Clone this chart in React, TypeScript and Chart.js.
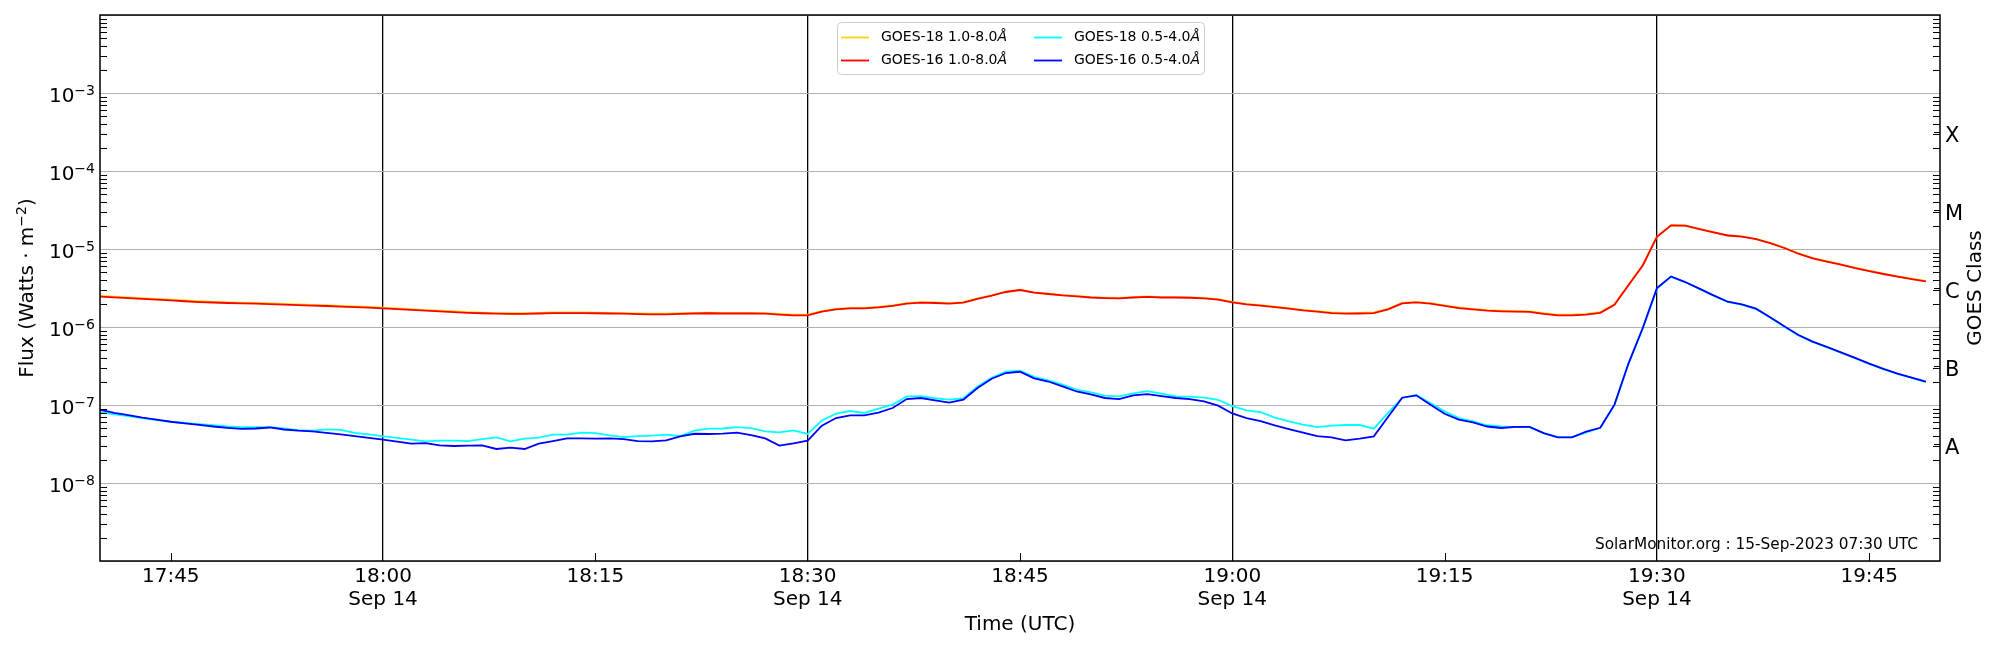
import { useEffect, useRef } from 'react';
import Chart from 'chart.js/auto';

// GOES XRS one-minute fluxes (W m^-2), first sample at 17:40 UTC on Sep 14
const startTime = '17:40';
const axisStart = '17:40';
const axisEnd = '19:50';

const goes18Long = [
  2.50e-6, 2.45e-6, 2.40e-6, 2.34e-6, 2.29e-6, 2.24e-6, 2.19e-6, 2.14e-6, 2.10e-6, 2.07e-6,
  2.05e-6, 2.03e-6, 2.01e-6, 1.98e-6, 1.95e-6, 1.92e-6, 1.90e-6, 1.87e-6, 1.84e-6, 1.81e-6,
  1.77e-6, 1.73e-6, 1.69e-6, 1.65e-6, 1.62e-6, 1.58e-6, 1.55e-6, 1.53e-6, 1.51e-6, 1.50e-6,
  1.50e-6, 1.52e-6, 1.54e-6, 1.54e-6, 1.54e-6, 1.53e-6, 1.52e-6, 1.51e-6, 1.49e-6, 1.48e-6,
  1.48e-6, 1.50e-6, 1.52e-6, 1.53e-6, 1.52e-6, 1.52e-6, 1.52e-6, 1.51e-6, 1.47e-6, 1.44e-6,
  1.44e-6, 1.60e-6, 1.71e-6, 1.76e-6, 1.76e-6, 1.81e-6, 1.89e-6, 2.02e-6, 2.08e-6, 2.06e-6,
  2.02e-6, 2.08e-6, 2.32e-6, 2.55e-6, 2.84e-6, 3.01e-6, 2.78e-6, 2.68e-6, 2.57e-6, 2.50e-6,
  2.42e-6, 2.38e-6, 2.36e-6, 2.42e-6, 2.46e-6, 2.42e-6, 2.42e-6, 2.40e-6, 2.36e-6, 2.28e-6,
  2.10e-6, 1.98e-6, 1.91e-6, 1.83e-6, 1.75e-6, 1.66e-6, 1.60e-6, 1.54e-6, 1.51e-6, 1.52e-6,
  1.54e-6, 1.71e-6, 2.04e-6, 2.10e-6, 2.02e-6, 1.89e-6, 1.78e-6, 1.71e-6, 1.65e-6, 1.62e-6,
  1.60e-6, 1.59e-6, 1.50e-6, 1.44e-6, 1.44e-6, 1.47e-6, 1.55e-6, 1.96e-6, 3.50e-6, 6.22e-6,
  1.44e-5, 2.02e-5, 2.00e-5, 1.81e-5, 1.64e-5, 1.50e-5, 1.45e-5, 1.35e-5, 1.20e-5, 1.04e-5,
  8.8e-6, 7.7e-6, 7.0e-6, 6.35e-6, 5.75e-6, 5.27e-6, 4.83e-6, 4.46e-6, 4.16e-6, 3.89e-6,
];

const goes16Long = [
  2.45e-6, 2.40e-6, 2.35e-6, 2.29e-6, 2.24e-6, 2.19e-6, 2.14e-6, 2.09e-6, 2.06e-6, 2.03e-6,
  2.01e-6, 1.99e-6, 1.97e-6, 1.94e-6, 1.91e-6, 1.88e-6, 1.86e-6, 1.83e-6, 1.80e-6, 1.77e-6,
  1.73e-6, 1.70e-6, 1.66e-6, 1.62e-6, 1.59e-6, 1.55e-6, 1.52e-6, 1.50e-6, 1.48e-6, 1.47e-6,
  1.47e-6, 1.49e-6, 1.51e-6, 1.51e-6, 1.51e-6, 1.50e-6, 1.49e-6, 1.48e-6, 1.46e-6, 1.45e-6,
  1.45e-6, 1.47e-6, 1.49e-6, 1.50e-6, 1.49e-6, 1.49e-6, 1.49e-6, 1.48e-6, 1.44e-6, 1.41e-6,
  1.41e-6, 1.57e-6, 1.68e-6, 1.73e-6, 1.73e-6, 1.78e-6, 1.86e-6, 1.99e-6, 2.05e-6, 2.03e-6,
  1.99e-6, 2.05e-6, 2.29e-6, 2.52e-6, 2.81e-6, 2.98e-6, 2.75e-6, 2.65e-6, 2.54e-6, 2.47e-6,
  2.39e-6, 2.35e-6, 2.33e-6, 2.39e-6, 2.43e-6, 2.39e-6, 2.39e-6, 2.37e-6, 2.33e-6, 2.25e-6,
  2.07e-6, 1.95e-6, 1.88e-6, 1.80e-6, 1.72e-6, 1.63e-6, 1.57e-6, 1.51e-6, 1.48e-6, 1.49e-6,
  1.51e-6, 1.68e-6, 2.01e-6, 2.07e-6, 1.99e-6, 1.86e-6, 1.75e-6, 1.68e-6, 1.62e-6, 1.59e-6,
  1.57e-6, 1.56e-6, 1.47e-6, 1.41e-6, 1.41e-6, 1.44e-6, 1.52e-6, 1.93e-6, 3.45e-6, 6.15e-6,
  1.43e-5, 2.01e-5, 1.99e-5, 1.80e-5, 1.63e-5, 1.49e-5, 1.44e-5, 1.34e-5, 1.19e-5, 1.03e-5,
  8.7e-6, 7.6e-6, 6.9e-6, 6.3e-6, 5.7e-6, 5.22e-6, 4.78e-6, 4.42e-6, 4.12e-6, 3.85e-6,
];

const goes18Short = [
  8.1e-8, 7.6e-8, 7.2e-8, 6.8e-8, 6.4e-8, 6.1e-8, 5.9e-8, 5.7e-8, 5.5e-8, 5.3e-8,
  5.2e-8, 5.2e-8, 5.2e-8, 5.0e-8, 4.75e-8, 4.7e-8, 4.86e-8, 4.8e-8, 4.4e-8, 4.2e-8,
  3.96e-8, 3.8e-8, 3.59e-8, 3.42e-8, 3.49e-8, 3.49e-8, 3.45e-8, 3.66e-8, 3.85e-8, 3.42e-8,
  3.70e-8, 3.81e-8, 4.16e-8, 4.16e-8, 4.42e-8, 4.37e-8, 4.08e-8, 3.88e-8, 4.0e-8, 4.04e-8,
  4.16e-8, 4.0e-8, 4.68e-8, 4.97e-8, 5.0e-8, 5.21e-8, 5.06e-8, 4.6e-8, 4.46e-8, 4.72e-8,
  4.25e-8, 6.35e-8, 7.73e-8, 8.37e-8, 7.9e-8, 8.97e-8, 1.01e-7, 1.29e-7, 1.30e-7, 1.22e-7,
  1.17e-7, 1.22e-7, 1.73e-7, 2.24e-7, 2.67e-7, 2.75e-7, 2.3e-7, 2.07e-7, 1.82e-7, 1.57e-7,
  1.45e-7, 1.32e-7, 1.29e-7, 1.41e-7, 1.51e-7, 1.40e-7, 1.29e-7, 1.28e-7, 1.24e-7, 1.16e-7,
  9.7e-8, 8.53e-8, 8.1e-8, 6.9e-8, 6.17e-8, 5.6e-8, 5.2e-8, 5.43e-8, 5.54e-8, 5.54e-8,
  4.97e-8, 7.9e-8, 1.23e-7, 1.35e-7, 1.06e-7, 8.28e-8, 6.8e-8, 6.17e-8, 5.5e-8, 5.3e-8,
  5.2e-8, 5.2e-8, 4.37e-8, 3.88e-8, 3.88e-8, 4.46e-8, 5.1e-8, 1.0e-7, 3.4e-7, 9.6e-7,
  3.1e-6, 4.4e-6, 3.75e-6, 3.08e-6, 2.52e-6, 2.1e-6, 1.93e-6, 1.7e-6, 1.32e-6, 1.01e-6,
  7.8e-7, 6.45e-7, 5.5e-7, 4.7e-7, 3.98e-7, 3.36e-7, 2.88e-7, 2.5e-7, 2.22e-7, 1.97e-7,
];

const goes16Short = [
  8.7e-8, 7.9e-8, 7.4e-8, 6.9e-8, 6.5e-8, 6.1e-8, 5.8e-8, 5.55e-8, 5.3e-8, 5.1e-8,
  4.95e-8, 5.0e-8, 5.15e-8, 4.85e-8, 4.7e-8, 4.6e-8, 4.4e-8, 4.2e-8, 4.0e-8, 3.8e-8,
  3.6e-8, 3.4e-8, 3.19e-8, 3.25e-8, 3.03e-8, 2.98e-8, 3.01e-8, 3.03e-8, 2.73e-8, 2.84e-8,
  2.73e-8, 3.19e-8, 3.45e-8, 3.73e-8, 3.73e-8, 3.70e-8, 3.73e-8, 3.66e-8, 3.45e-8, 3.42e-8,
  3.52e-8, 3.96e-8, 4.28e-8, 4.25e-8, 4.3e-8, 4.42e-8, 4.12e-8, 3.73e-8, 3.01e-8, 3.22e-8,
  3.49e-8, 5.43e-8, 6.8e-8, 7.36e-8, 7.36e-8, 7.96e-8, 9.14e-8, 1.19e-7, 1.23e-7, 1.15e-7,
  1.07e-7, 1.17e-7, 1.65e-7, 2.17e-7, 2.57e-7, 2.67e-7, 2.2e-7, 2.0e-7, 1.73e-7, 1.49e-7,
  1.37e-7, 1.23e-7, 1.19e-7, 1.33e-7, 1.38e-7, 1.30e-7, 1.23e-7, 1.19e-7, 1.11e-7, 9.8e-8,
  7.8e-8, 6.8e-8, 6.23e-8, 5.49e-8, 4.92e-8, 4.42e-8, 4.0e-8, 3.85e-8, 3.52e-8, 3.70e-8,
  3.96e-8, 7.0e-8, 1.24e-7, 1.33e-7, 1.01e-7, 7.73e-8, 6.48e-8, 5.98e-8, 5.3e-8, 5.07e-8,
  5.25e-8, 5.25e-8, 4.37e-8, 3.85e-8, 3.85e-8, 4.55e-8, 5.1e-8, 1.01e-7, 3.45e-7, 9.7e-7,
  3.15e-6, 4.45e-6, 3.77e-6, 3.10e-6, 2.54e-6, 2.11e-6, 1.95e-6, 1.72e-6, 1.33e-6, 1.02e-6,
  7.9e-7, 6.5e-7, 5.55e-7, 4.73e-7, 4.01e-7, 3.39e-7, 2.9e-7, 2.52e-7, 2.24e-7, 1.99e-7,
];

const seriesLabels = ['GOES-18 1.0-8.0Å', 'GOES-16 1.0-8.0Å', 'GOES-18 0.5-4.0Å', 'GOES-16 0.5-4.0Å'];
const seriesColors = ['#ffd700', '#ff0000', '#00ffff', '#0000ff'];

const tickTimes = ['17:45', '18:00', '18:15', '18:30', '18:45', '19:00', '19:15', '19:30', '19:45'];
const majorTimes = ['18:00', '18:30', '19:00', '19:30'];
const dateLabel = 'Sep 14';

const decadeExponents = [-9, -8, -7, -6, -5, -4, -3, -2];
const labelledExponents = [-8, -7, -6, -5, -4, -3];
const classLetters = ['A', 'B', 'C', 'M', 'X'];
const classExponents = [-7.5, -6.5, -5.5, -4.5, -3.5];

const watermark = 'SolarMonitor.org : 15-Sep-2023 07:30 UTC';
const FONT = "'DejaVu Sans'";

function toMinutes(hhmm: string) {
  const [h, m] = hhmm.split(':').map(Number);
  return h * 60 + m;
}

function asPoints(values: number[]) {
  const t0 = toMinutes(startTime);
  return values.map((v, i) => ({ x: t0 + i, y: v }));
}

const decorations = {
  id: 'goesDecorations',
  afterDraw(chart: any) {
    const { ctx, chartArea } = chart;
    const { left, right, top, bottom } = chartArea;
    const xs = chart.scales.x;
    const ys = chart.scales.y;
    const line = (x1: number, y1: number, x2: number, y2: number) => {
      ctx.beginPath();
      ctx.moveTo(x1, y1);
      ctx.lineTo(x2, y2);
      ctx.stroke();
    };

    ctx.save();
    ctx.strokeStyle = '#000';
    ctx.lineWidth = 1;

    // inward minor ticks on the time axis
    tickTimes
      .filter((t) => !majorTimes.includes(t))
      .forEach((t) => {
        const px = Math.round(xs.getPixelForValue(toMinutes(t))) + 0.5;
        line(px, bottom, px, bottom - 8);
      });

    // inward log minor ticks, both sides
    decadeExponents.slice(0, -1).forEach((e) => {
      for (let k = 2; k <= 9; k++) {
        const py = Math.round(ys.getPixelForValue(k * Math.pow(10, e))) + 0.5;
        line(left, py, left + 7, py);
        line(right - 7, py, right, py);
      }
    });
    classExponents.forEach((e) => {
      const py = Math.round(ys.getPixelForValue(Math.pow(10, e))) + 0.5;
      line(right - 6, py, right, py);
    });

    // frame
    ctx.lineWidth = 1.5;
    ctx.strokeRect(left, top, right - left, bottom - top);

    // y tick labels as 10 with superscript exponent
    ctx.fillStyle = '#000';
    ctx.textAlign = 'right';
    ctx.textBaseline = 'alphabetic';
    labelledExponents.forEach((e) => {
      const py = ys.getPixelForValue(Math.pow(10, e));
      const exp = '\u2212' + Math.abs(e);
      ctx.font = `14px ${FONT}`;
      const ew = ctx.measureText(exp).width;
      ctx.fillText(exp, left - 5, py + 1.5);
      ctx.font = `20px ${FONT}`;
      ctx.fillText('10', left - 5 - ew, py + 8.5);
    });

    // GOES class letters on the right axis
    ctx.textAlign = 'left';
    ctx.font = `21px ${FONT}`;
    classExponents.forEach((e, i) => {
      const py = ys.getPixelForValue(Math.pow(10, e));
      ctx.fillText(classLetters[i], right + 5, py + 10);
    });

    // left-hand title with superscript unit
    ctx.save();
    ctx.translate(27, (top + bottom) / 2);
    ctx.rotate(-Math.PI / 2);
    ctx.textAlign = 'left';
    ctx.textBaseline = 'alphabetic';
    const head = 'Flux (Watts · m';
    const sup = '\u22122';
    const tail = ')';
    ctx.font = `20px ${FONT}`;
    const wh = ctx.measureText(head).width;
    const wt = ctx.measureText(tail).width;
    ctx.font = `14px ${FONT}`;
    const ws = ctx.measureText(sup).width;
    let tx = -(wh + ws + wt) / 2;
    ctx.font = `20px ${FONT}`;
    ctx.fillText(head, tx, 6);
    tx += wh;
    ctx.font = `14px ${FONT}`;
    ctx.fillText(sup, tx, -1);
    tx += ws;
    ctx.font = `20px ${FONT}`;
    ctx.fillText(tail, tx, 6);
    ctx.restore();

    // right-hand title
    ctx.save();
    ctx.translate(1976, (top + bottom) / 2);
    ctx.rotate(-Math.PI / 2);
    ctx.textAlign = 'center';
    ctx.textBaseline = 'middle';
    ctx.font = `20px ${FONT}`;
    ctx.fillText('GOES Class', 0, 0);
    ctx.restore();

    // watermark
    ctx.font = `15.3px ${FONT}`;
    ctx.textAlign = 'right';
    ctx.textBaseline = 'alphabetic';
    ctx.fillText(watermark, right - 22, bottom - 12);

    // legend
    const bx = 837.5, by = 22.5, bw = 367, bh = 52;
    ctx.beginPath();
    ctx.roundRect(bx, by, bw, bh, 4);
    ctx.fillStyle = 'rgba(255,255,255,0.8)';
    ctx.fill();
    ctx.strokeStyle = '#cccccc';
    ctx.lineWidth = 1;
    ctx.stroke();

    const colX = [841, 1034];
    const rowY = [37.5, 60.5];
    seriesLabels.forEach((label, i) => {
      const cx = colX[Math.floor(i / 2)];
      const cy = rowY[i % 2];
      ctx.strokeStyle = seriesColors[i];
      ctx.lineWidth = 1.8;
      line(cx, cy, cx + 28, cy);
      const main = label.slice(0, -1);
      ctx.fillStyle = '#000';
      ctx.textAlign = 'left';
      ctx.textBaseline = 'middle';
      ctx.font = `14px ${FONT}`;
      ctx.fillText(main, cx + 40, cy);
      const w = ctx.measureText(main).width;
      ctx.font = `italic 14px ${FONT}`;
      ctx.fillText(label.slice(-1), cx + 40 + w, cy);
    });

    ctx.restore();
  },
};

export default function App() {
  const canvasRef = useRef<HTMLCanvasElement | null>(null);

  useEffect(() => {
    const canvas = canvasRef.current;
    if (!canvas) return;

    Chart.defaults.font.family = FONT;
    Chart.defaults.color = '#000';

    const series = [goes18Long, goes16Long, goes18Short, goes16Short];

    const chart = new Chart(canvas, {
      type: 'line',
      data: {
        datasets: series.map((values, i) => ({
          label: seriesLabels[i],
          data: asPoints(values),
          borderColor: seriesColors[i],
          backgroundColor: seriesColors[i],
          borderWidth: 1.8,
          pointRadius: 0,
          tension: 0,
          order: series.length - i,
        })),
      },
      options: {
        responsive: false,
        animation: false,
        events: [],
        layout: { padding: { top: 15, left: 0, right: 0, bottom: 0 } },
        plugins: {
          legend: { display: false },
          tooltip: { enabled: false },
        },
        scales: {
          x: {
            type: 'linear',
            min: toMinutes(axisStart),
            max: toMinutes(axisEnd),
            afterBuildTicks: (scale: any) => {
              scale.ticks = tickTimes.map((t) => ({ value: toMinutes(t) }));
            },
            afterFit: (scale: any) => {
              scale.height = 89;
            },
            border: { display: false },
            grid: {
              drawTicks: false,
              lineWidth: 1.3,
              color: (ctx: any) =>
                ctx.tick && majorTimes.map(toMinutes).includes(ctx.tick.value) ? '#000' : 'rgba(0,0,0,0)',
            },
            ticks: {
              autoSkip: false,
              maxRotation: 0,
              padding: 4,
              font: { size: 20, lineHeight: 1.15 },
              callback: (_v: any, i: number) =>
                majorTimes.includes(tickTimes[i]) ? [tickTimes[i], dateLabel] : tickTimes[i],
            },
            title: {
              display: true,
              text: 'Time (UTC)',
              font: { size: 20, lineHeight: 1.2 },
              padding: { top: 0, bottom: 13 },
            },
          },
          y: {
            type: 'logarithmic',
            position: 'left',
            min: 1e-9,
            max: 1e-2,
            afterBuildTicks: (scale: any) => {
              scale.ticks = decadeExponents.map((e) => ({ value: Math.pow(10, e) }));
            },
            afterFit: (scale: any) => {
              scale.width = 100;
            },
            border: { display: false },
            grid: { drawTicks: false, color: '#b0b0b0', lineWidth: 1 },
            ticks: { display: false },
          },
          y2: {
            type: 'logarithmic',
            position: 'right',
            min: 1e-9,
            max: 1e-2,
            afterFit: (scale: any) => {
              scale.width = 60;
            },
            border: { display: false },
            grid: { display: false },
            ticks: { display: false },
          },
        },
      },
      plugins: [decorations],
    });

    return () => {
      chart.destroy();
    };
  }, []);

  return (
    <div style={{ position: 'absolute', left: 0, top: 0, width: 2000, height: 650, background: '#fff' }}>
      <canvas ref={canvasRef} width={2000} height={650} style={{ width: 2000, height: 650 }} />
    </div>
  );
}
